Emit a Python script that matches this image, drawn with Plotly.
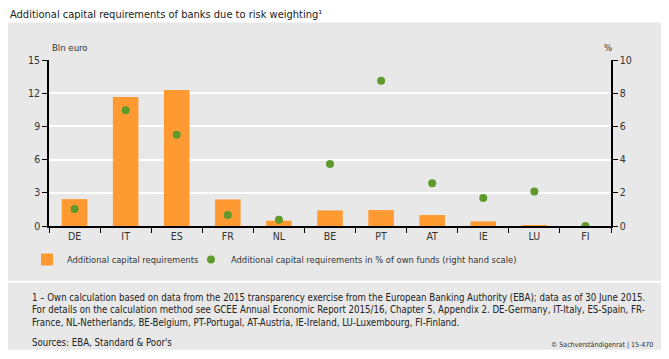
import plotly.graph_objects as go

countries = ["DE", "IT", "ES", "FR", "NL", "BE", "PT", "AT", "IE", "LU", "FI"]
capital_bln = [2.43, 11.65, 12.3, 2.4, 0.48, 1.41, 1.44, 0.99, 0.42, 0.09, 0.0]
capital_pct = [1.02, 6.97, 5.5, 0.66, 0.38, 3.74, 8.75, 2.58, 1.68, 2.08, 0.0]
left_ticks = [0, 3, 6, 9, 12, 15]
right_ticks = [0, 2, 4, 6, 8, 10]

OFF = 8  # default page body margin
W, H = 669 - OFF, 359 - OFF
L, R, T, B = 49 - OFF, 611 - OFF, 59.5 - OFF, 226 - OFF
FONT = "DejaVu Sans Condensed, Liberation Sans, sans-serif"


def px(x):
    return (x - OFF - L) / (R - L)


def py(y):
    return (B - (y - OFF)) / (B - T)


fig = go.Figure()
fig.add_trace(go.Bar(
    x=countries, y=capital_bln, name="Additional capital requirements",
    marker=dict(color="#FF9A33", line=dict(width=0)), width=0.5,
    legend="legend",
))
fig.add_trace(go.Scatter(
    x=countries, y=capital_pct, yaxis="y2", mode="markers",
    name="Additional capital requirements in % of own funds (right hand scale)",
    marker=dict(color="#5E9A2C", size=8), legend="legend2",
))

axis_font = dict(family=FONT, size=10.5, color="#333333")
legend_common = dict(
    orientation="h", xanchor="left", yanchor="top",
    bgcolor="rgba(0,0,0,0)", font=dict(family=FONT, size=9.3, color="#333333"),
    itemwidth=30,
)
fig.update_layout(
    width=W, height=H,
    margin=dict(l=L, r=W - R, t=T, b=H - B, pad=0),
    paper_bgcolor="white", plot_bgcolor="rgba(0,0,0,0)",
    font=dict(family=FONT, size=10.5, color="#333333"),
    showlegend=True,
    xaxis=dict(
        range=[-0.5, 10.5], type="category", tickson="boundaries",
        ticks="outside", ticklen=5, tickcolor="black", tickwidth=1,
        showline=True, linecolor="black", linewidth=1.5,
        showgrid=False, tickfont=axis_font,
    ),
    yaxis=dict(
        range=[0, 15], tickvals=left_ticks, ticks="outside", ticklen=5,
        tickcolor="black", showline=True, linecolor="black", linewidth=1.5,
        gridcolor="white", gridwidth=1.5, zeroline=False, tickfont=axis_font,
    ),
    yaxis2=dict(
        range=[0, 10], tickvals=right_ticks, overlaying="y", side="right",
        ticks="outside", ticklen=5, tickcolor="black", showline=True,
        linecolor="black", linewidth=1.5, showgrid=False, zeroline=False,
        tickfont=axis_font,
    ),
    legend=dict(x=px(27), y=py(245), **legend_common),
    legend2=dict(x=px(191), y=py(245), **legend_common),
    shapes=[
        dict(type="rect", xref="paper", yref="paper", x0=px(7), x1=px(662),
             y0=py(281), y1=py(22), fillcolor="#E8E8E8", line=dict(width=0), layer="below"),
        dict(type="rect", xref="paper", yref="paper", x0=px(7), x1=px(662),
             y0=py(350), y1=py(283), fillcolor="#E8E8E8", line=dict(width=0), layer="below"),
    ],
)

ann = [
    dict(text="Additional capital requirements of banks due to risk weighting¹",
         x=px(8), y=py(14), xanchor="left", yanchor="middle",
         font=dict(family=FONT, size=11, color="#1A1A1A")),
    dict(text="Bln euro", x=px(50), y=py(47), xanchor="left", yanchor="middle",
         font=dict(family=FONT, size=9.5, color="#333333")),
    dict(text="%", x=px(608), y=py(47), xanchor="center", yanchor="middle",
         font=dict(family=FONT, size=9.5, color="#333333")),
    dict(text="1 – Own calculation based on data from the 2015 transparency exercise from the European Banking Authority (EBA); data as of 30 June 2015.<br>"
              "For details on the calculation method see GCEE Annual Economic Report 2015/16, Chapter 5, Appendix 2. DE-Germany, IT-Italy, ES-Spain, FR-<br>"
              "France, NL-Netherlands, BE-Belgium, PT-Portugal, AT-Austria, IE-Ireland, LU-Luxembourg, FI-Finland.",
         x=px(30), y=py(290), xanchor="left", yanchor="top", align="left",
         font=dict(family=FONT, size=9.6, color="#222222")),
    dict(text="Sources: EBA, Standard &amp; Poor's", x=px(30), y=py(343),
         xanchor="left", yanchor="middle",
         font=dict(family=FONT, size=9.6, color="#222222")),
    dict(text="© Sachverständigenrat | 15-470", x=px(655), y=py(345),
         xanchor="right", yanchor="middle",
         font=dict(family=FONT, size=7, color="#333333")),
]
for a in ann:
    a.update(xref="paper", yref="paper", showarrow=False)
fig.update_layout(annotations=ann)

fig.write_html("out.html")
